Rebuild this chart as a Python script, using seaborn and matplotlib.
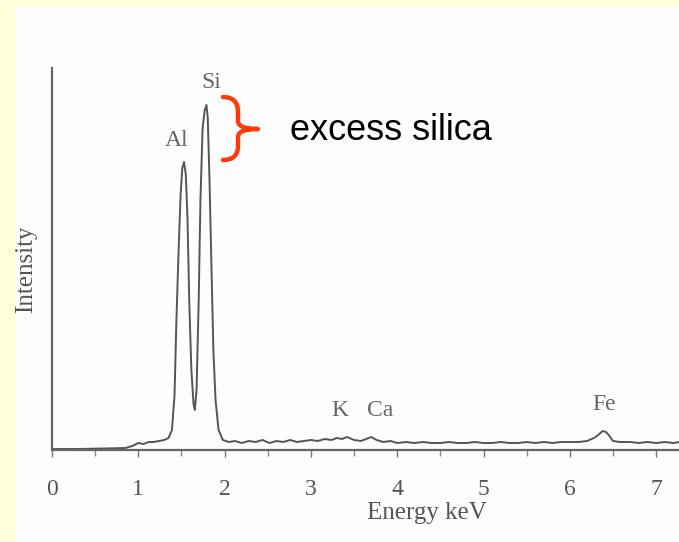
import numpy as np
import pandas as pd
import matplotlib
matplotlib.use("Agg")
import matplotlib.pyplot as plt
import seaborn as sns
from matplotlib.path import Path
from matplotlib.patches import PathPatch, Rectangle

# ---- data (energy in keV, intensity in arbitrary units) ----
energy = [0.00, 0.30, 0.60, 0.85, 0.93, 1.00, 1.06, 1.12, 1.18, 1.24, 1.30, 1.35,
          1.39, 1.42, 1.44, 1.465, 1.49, 1.51, 1.53, 1.55, 1.57, 1.59, 1.615,
          1.64, 1.655, 1.675, 1.70, 1.72, 1.745, 1.77, 1.79, 1.805, 1.825, 1.85,
          1.87, 1.895, 1.93, 1.98, 2.05, 2.12, 2.20, 2.28, 2.36, 2.44, 2.52,
          2.60, 2.68, 2.76, 2.84, 2.92, 3.00, 3.08, 3.16, 3.24, 3.30, 3.36,
          3.42, 3.50, 3.58, 3.64, 3.70, 3.76, 3.84, 3.92, 4.00, 4.10, 4.20,
          4.30, 4.40, 4.50, 4.60, 4.70, 4.80, 4.90, 5.00, 5.10, 5.20, 5.30,
          5.40, 5.50, 5.60, 5.70, 5.80, 5.90, 6.00, 6.10, 6.20, 6.28, 6.33,
          6.38, 6.42, 6.46, 6.50, 6.58, 6.70, 6.80, 6.90, 7.00, 7.10, 7.20, 7.27]
intensity = [1, 1, 1.5, 2, 4, 7, 6, 8, 8, 9, 10, 12,
             20, 55, 125, 195, 255, 282, 288, 276, 232, 150, 80,
             46, 40, 60, 150, 250, 322, 340, 345, 332, 270, 175,
             100, 50, 20, 10, 8, 9, 7, 9, 8, 10, 7,
             9, 8, 10, 8, 9, 10, 9, 11, 10, 12, 11,
             13, 10, 9, 11, 13, 10, 8, 9, 7, 8, 7,
             8, 7, 7, 8, 7, 7, 8, 7, 7, 8, 7,
             7, 8, 7, 8, 7, 8, 8, 8, 9, 12, 15,
             19, 18, 14, 9, 8, 8, 7, 8, 7, 8, 7, 8]

xticks = [0, 1, 2, 3, 4, 5, 6, 7]
peak_labels = ["Al", "Si", "K", "Ca", "Fe"]
peak_label_x = [1.44, 1.85, 3.33, 3.80, 6.40]
peak_label_y = [310, 368, 39, 39, 45]

df = pd.DataFrame({"Energy": energy, "Intensity": intensity})

sns.set_style("white")
plt.rcParams["font.family"] = ["Liberation Serif", "DejaVu Serif"]

W, H = 679, 542
fig = plt.figure(figsize=(W / 100, H / 100), dpi=100)
fig.patch.set_facecolor("#FFFFD8")
fig.patches.append(Rectangle((15 / W, 0), 1 - 15 / W, 1 - 7 / H,
                             transform=fig.transFigure, facecolor="#FDFDFD",
                             edgecolor="none", zorder=-10))

ax_left, ax_bottom, ax_top = 52 / W, 1 - 450 / H, 1 - 68 / H
ax = fig.add_axes([ax_left, ax_bottom, 1 - ax_left, ax_top - ax_bottom])
ax.set_facecolor("none")
ax.set_zorder(1)

sns.lineplot(data=df, x="Energy", y="Intensity", ax=ax, color="#555555",
             linewidth=1.4, estimator=None, sort=False)

ax.set_xlim(0, (W - 52) / 86.3)
ax.set_ylim(0, 382)
ax.set_xticks(xticks)
ax.set_xticks(np.arange(0.5, 7.3, 1.0), minor=True)
ax.set_yticks([])
ax.tick_params(axis="x", which="major", direction="out", length=5, width=1,
               color="#777777", labelsize=17, labelcolor="#555555", pad=16,
               bottom=True)
ax.tick_params(axis="x", which="minor", direction="out", length=4, width=1,
               color="#888888", bottom=True)
for s in ["top", "right"]:
    ax.spines[s].set_visible(False)
for s in ["left", "bottom"]:
    ax.spines[s].set_color("#666666")
    ax.spines[s].set_linewidth(1.6)

ax.set_xlabel("Energy keV", fontsize=18, color="#555555")
ax.xaxis.label.set_va("center")
ax.xaxis.set_label_coords((427 - 52) / (W - 52), (450 - 513) / 382)
ax.set_ylabel("")
fig.text(26 / W, 1 - 269 / H, "Intensity", rotation=90, ha="center",
         va="center", fontsize=18, color="#555555", zorder=5)

for lab, lx, ly in zip(peak_labels, peak_label_x, peak_label_y):
    ax.text(lx, ly, lab, ha="center", va="center", fontsize=17,
            color="#666666")

# red curly brace
def P(x, y):
    return (x / W, 1 - y / H)

verts = [P(223, 97), P(238, 97), P(238, 112), P(238, 121), P(238, 129), P(258, 129),
         P(238, 129), P(238, 137), P(238, 146), P(238, 160), P(223, 160)]
codes = [Path.MOVETO, Path.CURVE3, Path.CURVE3, Path.LINETO, Path.CURVE3, Path.CURVE3,
         Path.CURVE3, Path.CURVE3, Path.LINETO, Path.CURVE3, Path.CURVE3]
fig.patches.append(PathPatch(Path(verts, codes), transform=fig.transFigure,
                             facecolor="none", edgecolor="#FF3A0A", linewidth=3.2,
                             capstyle="round", joinstyle="round", zorder=5))

fig.text(290 / W, 1 - 131 / H, "excess silica", ha="left", va="center",
         fontsize=26, color="black", family=["Liberation Sans", "DejaVu Sans"],
         zorder=5)

fig.savefig("out.png", dpi=100)
